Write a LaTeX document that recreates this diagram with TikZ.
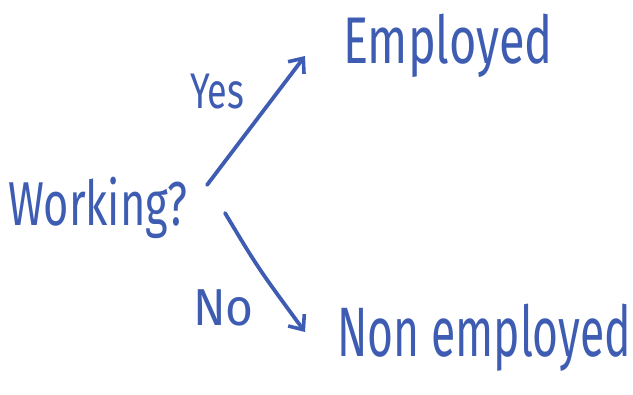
\documentclass[tikz,border=0pt]{standalone}
\usepackage{fontspec}
\setmainfont{Fira Sans}
\usetikzlibrary{arrows.meta}
\definecolor{ink}{HTML}{3E5DB2}
\begin{document}
\begin{tikzpicture}[x=1pt,y=-1pt,
  label/.style={text=ink,inner sep=0pt,anchor=west},
  pen/.style={draw=ink,line width=3.8pt,line cap=round,
    -{Straight Barb[length=12pt,width=20pt,line width=3.6pt]}}]
  \useasboundingbox (0,0) rectangle (633,395);
  \node[label] (work) at (8,208) {\scalebox{0.70}[1]{\fontsize{62}{70}\selectfont Working?}};
  \node[label] (emp) at (343,46) {\scalebox{0.71}[1]{\fontsize{66}{74}\selectfont Employed}};
  \node[label] (non) at (337,338) {\scalebox{0.635}[1]{\fontsize{70}{80}\selectfont Non employed}};
  \node[label] (yes) at (190,92) {\scalebox{0.72}[1]{\fontsize{50}{60}\selectfont Yes}};
  \node[label] (no) at (193,308) {\scalebox{0.92}[1]{\fontsize{52}{60}\selectfont No}};
  \coordinate (ys) at (207,185);
  \coordinate (ye) at (305,56);
  \coordinate (ns) at (225,213);
  \coordinate (ne) at (305,332);
  \draw[pen] (ys) -- (ye);
  \draw[pen] (ns) .. controls (258,268) .. (ne);
\end{tikzpicture}
\end{document}
